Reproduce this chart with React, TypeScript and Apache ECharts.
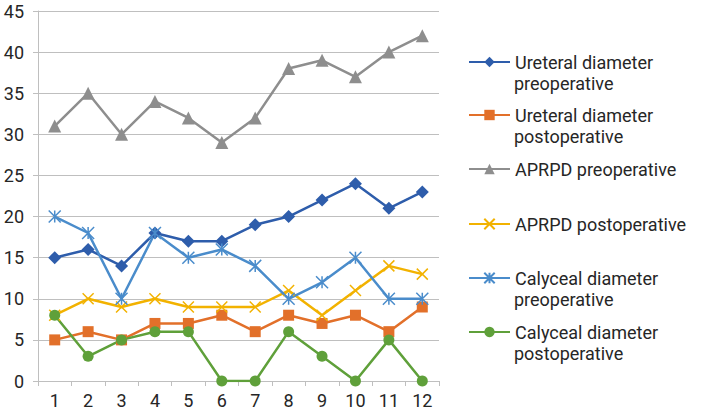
import React, { useEffect, useRef } from "react";
import * as echarts from "echarts";

const categories = ["1", "2", "3", "4", "5", "6", "7", "8", "9", "10", "11", "12"];
const ureteralPre = [15, 16, 14, 18, 17, 17, 19, 20, 22, 24, 21, 23];
const ureteralPost = [5, 6, 5, 7, 7, 8, 6, 8, 7, 8, 6, 9];
const aprpdPre = [31, 35, 30, 34, 32, 29, 32, 38, 39, 37, 40, 42];
const aprpdPost = [8, 10, 9, 10, 9, 9, 9, 11, 8, 11, 14, 13];
const calycealPre = [20, 18, 10, 18, 15, 16, 14, 10, 12, 15, 10, 10];
const calycealPost = [8, 3, 5, 6, 6, 0, 0, 6, 3, 0, 5, 0];

const legendFirst = [
  "Ureteral diameter",
  "Ureteral diameter",
  "APRPD preoperative",
  "APRPD postoperative",
  "Calyceal diameter",
  "Calyceal diameter",
];
const legendSecond = ["preoperative", "postoperative", "", "", "preoperative", "postoperative"];

const FONT = "Roboto, 'Noto Sans', sans-serif";
const X_PATH = "path://M0,0L10,10M0,10L10,0";
const STAR_PATH = "path://M0,0L10,10M0,10L10,0M5,0L5,10";

export default function App() {
  const ref = useRef<HTMLDivElement>(null);
  useEffect(() => {
    if (!ref.current) return;
    const chart = echarts.init(ref.current, null, { renderer: "svg" });
    const names = legendFirst.map((f, i) => (legendSecond[i] ? f + " " + legendSecond[i] : f));
    const colors = ["#2E5DAB", "#E2702A", "#8E8E8E", "#F2B200", "#4A8CCB", "#5FA03A"];
    const datas = [ureteralPre, ureteralPost, aprpdPre, aprpdPost, calycealPre, calycealPost];
    const symbols = ["diamond", "rect", "triangle", X_PATH, STAR_PATH, "circle"];
    const sizes = [13, 11, 13, 11, 12, 11];
    const series = datas.map((d, i) => {
      const stroke = i === 3 || i === 4;
      return {
        type: "line",
        name: names[i],
        data: d,
        symbol: symbols[i],
        symbolSize: sizes[i],
        showAllSymbol: true,
        lineStyle: { color: colors[i], width: 2.5 },
        itemStyle: stroke
          ? { color: colors[i], borderColor: colors[i], borderWidth: 1.5 }
          : { color: colors[i] },
      };
    });
    const iconY = [62, 115, 169, 224, 278, 332];
    const LH = 21.5;
    const legends = names.map((n, i) => ({
      show: true,
      left: 468,
      top: iconY[i] - LH / 2,
      padding: 0,
      itemWidth: 41,
      itemHeight: 13,
      selectedMode: false,
      data: [n],
      formatter: () => legendFirst[i],
      textStyle: {
        fontFamily: FONT,
        fontSize: 18,
        lineHeight: LH,
        color: "#262626",
      },
    }));
    const secondLines = legendSecond
      .map((t, i) => ({ t, i }))
      .filter((o) => o.t)
      .map((o) => ({
        type: "text",
        x: 514,
        y: iconY[o.i] + LH,
        style: {
          text: o.t,
          fontFamily: FONT,
          fontSize: 18,
          lineHeight: LH,
          fill: "#262626",
          verticalAlign: "middle",
          align: "left",
        },
      }));
    chart.setOption({
      animation: false,
      grid: { left: 38, right: 263, top: 11, bottom: 30, containLabel: false },
      legend: legends,
      graphic: secondLines,
      xAxis: {
        type: "category",
        data: categories,
        boundaryGap: true,
        axisLine: { show: true, lineStyle: { color: "#BFBFBF", width: 1 } },
        axisTick: { show: true, length: 5, lineStyle: { color: "#BFBFBF" } },
        axisLabel: { fontFamily: FONT, fontSize: 18, color: "#262626", margin: 10 },
        splitLine: { show: false },
      },
      yAxis: {
        type: "value",
        min: 0,
        max: 45,
        interval: 5,
        axisLine: { show: true, lineStyle: { color: "#BFBFBF", width: 1 } },
        axisTick: { show: true, length: 5, lineStyle: { color: "#BFBFBF" } },
        axisLabel: { fontFamily: FONT, fontSize: 18, color: "#262626", margin: 14 },
        splitLine: { show: true, lineStyle: { color: "#BFBFBF", width: 1 } },
      },
      series,
    });
    return () => chart.dispose();
  }, []);
  return <div ref={ref} style={{ width: 702, height: 411, position: "absolute", left: 0, top: 0 }} />;
}
